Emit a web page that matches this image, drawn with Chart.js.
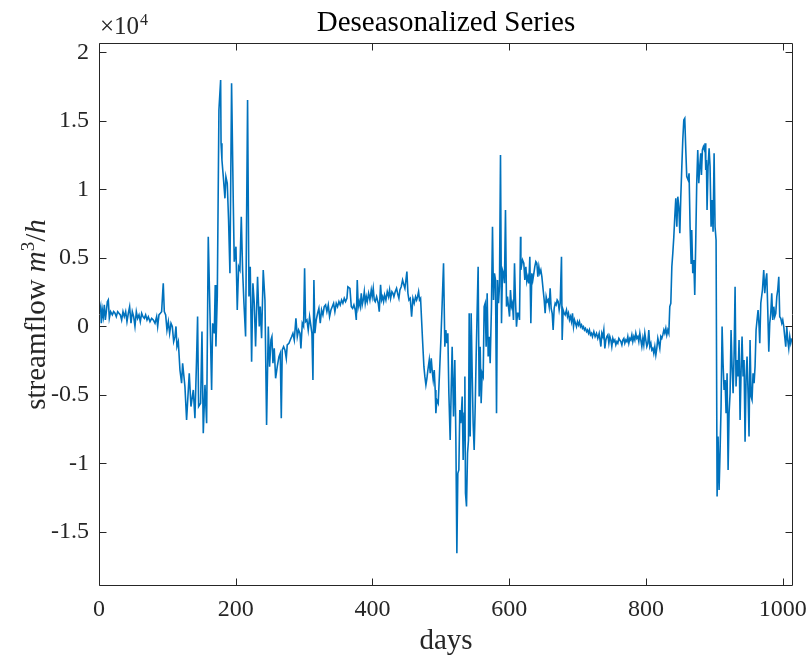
<!DOCTYPE html>
<html>
<head>
<meta charset="utf-8">
<script src="https://cdn.jsdelivr.net/npm/chart.js@4"></script>
<style>
  body { margin: 0; background: #fff; }
  canvas { display: block; }
</style>
</head>
<body>
<canvas id="Chart" width="809" height="662"></canvas>
<script>
// streamflow in units of 1e4 m^3/h
const days = [
  1, 2.4, 3.4, 4.9, 6.3, 7.8, 9.3, 10.7, 12.2, 13.6,
  15.1, 17, 19.5, 21.4, 23.4, 25.3, 27.3, 29.2, 31.2, 33.1,
  35.1, 37, 39, 40.9, 42.9, 44.8, 46.8, 48.7, 50.7, 52.6,
  54.6, 56.5, 58.5, 60.4, 62.4, 64.3, 66.3, 68.2, 70.2, 72.1,
  74.6, 77, 79.4, 81.9, 84.3, 85.8, 87.7, 89.7, 91.6, 93.1,
  94, 95.5, 97.5, 99.4, 101.4, 103.3, 105.3, 107.2, 109.2, 111.1,
  112.6, 114, 116,
  118.4, 120.8, 122.3, 125.7, 128.1, 132, 134.5, 137.9, 140.3, 142.8,
  144.2, 145.7, 148.6, 150.6, 152.5, 155, 157.4, 159.8, 162.3, 164.7,
  166.2, 168.6, 170, 171, 173, 175.4, 177.9, 178.5, 179.8, 181.8,
  184.2, 185.6, 187.6, 189.5, 191.5, 193.9, 196.4, 197.8, 200.3, 202.2,
  204.2, 206.1, 208.1, 210, 212, 214.4, 217.3, 219.3, 221.2, 223.2,
  225.1, 227.1, 229, 231.9, 234.4, 235.8, 237.8, 240.2, 242.7, 245.1,
  247.6, 249.5, 251.5, 252.9, 254.4, 256.3, 258.3, 260.7, 263.2, 265.1,
  266.6, 268, 270, 271.9, 273.9, 275.3, 277.8, 279.7, 281.7, 283.6,
  285.6, 288, 290, 291.9, 293.9, 295.3, 297.3, 299.2, 300.7, 302.1,
  304.1, 306, 308, 310, 311.4, 312.9, 314.3, 315.8, 317.7, 319.7,
  321.6, 323.6, 325.5, 327.5, 329.4, 331.4, 333.3, 335.3, 337.2, 339.2,
  341.1, 343.1, 345, 347, 348.9, 350.9, 352.8, 354.8, 356.7, 358.7,
  360.6, 362.6, 364,
  367.0, 369.0, 370.9, 372.8, 374.8, 376.3, 377.7, 379.2, 380.6, 382.1,
  383.6, 385.0, 386.5, 388.0, 389.4, 390.9, 392.3, 394.3, 396.2, 398.2,
  399.6, 401.1, 402.6, 404.0, 406.0, 408.4, 409.9, 411.8, 413.3, 414.8,
  416.2, 417.7, 419.6, 421.6, 423.5, 425.0, 426.5, 428.4, 429.9, 431.3,
  433.3, 435.2, 437.2, 438.6, 440.1, 442.0, 444.0, 445.9, 447.4, 448.9,
  450.3, 451.8, 453.3, 455.2, 457.2, 459.1, 461.0, 463.0, 464.5, 465.9,
  467.4, 468.8, 470.3, 471.8, 473.2, 475.2, 476.6, 478.1, 479.6, 481.0,
  483.0, 484.4, 485.9, 487.4, 488.8, 490.3, 491.7,
  492.7, 494.1, 496.1, 498.0, 500.0, 501.9, 503.9, 505.8, 507.3, 508.7,
  510.2, 511.7, 513.6, 515.1, 516.5, 518.5, 520.4, 521.9, 523.4, 524.8,
  526.3, 527.7, 529.2, 531.2, 532.6, 534.1, 535.1, 536.0, 537.5, 539.0,
  540.4, 541.4, 542.9, 544.3, 545.8, 547.2, 548.7, 550.2, 551.6, 553.1,
  554.5, 556.0, 557.5, 558.9, 560.4, 561.9, 563.3, 564.8, 566.2, 567.7,
  569.2, 570.6, 572.1, 574.0, 575.5, 577.0, 578.4, 579.9, 581.4, 582.8,
  584.3, 585.7, 587.2, 588.7, 590.1, 591.6, 593.0, 594.5, 596.0, 597.4,
  598.9, 600.4, 601.8, 603.3, 604.7, 606.2, 607.7, 609.1, 610.6, 612.1,
  613.5, 615.0,
  616.5,
  617.0, 619.4, 621.3, 622.8, 624.3, 625.7, 627.2, 628.7, 630.1, 631.6,
  633.0, 634.5, 636.0, 637.4, 638.9, 640.4, 641.8, 643.3, 644.7, 646.2,
  647.7, 649.6, 651.1, 652.5, 654.0, 655.5, 656.9, 658.4, 659.8, 661.3,
  662.8, 664.2, 665.7, 667.2, 668.6, 670.1, 671.5, 673.0, 674.5, 676.4,
  677.4, 678.8, 680.3, 681.8, 683.7, 685.2, 686.6, 688.1, 689.6, 691.0,
  692.5, 694.0, 695.4, 696.9, 698.3, 699.8, 701.3, 702.7, 704.2, 705.7,
  707.1, 708.6, 710.0, 711.5, 713.0, 714.4, 715.9, 717.3, 718.8, 720.3,
  721.7, 723.7, 725.6, 727.6, 729.5, 731.5,
  734.0, 735.4, 736.9, 738.3, 739.8, 741.3, 742.7, 744.2, 745.7, 747.1,
  748.6, 750.0, 751.5, 753.0, 754.4, 755.9, 757.4, 758.8, 760.3, 761.7,
  763.2, 764.7, 766.1, 767.6, 769.0, 770.5, 772.0, 773.4, 774.9, 776.4,
  777.8, 779.3, 780.7, 782.2, 783.7, 785.1, 786.6, 788.1, 789.5, 791.0,
  792.4, 793.9, 795.4, 796.8, 798.3, 799.7, 801.2, 802.7, 804.1, 805.6,
  807.1, 808.5, 810.0, 811.4, 812.9, 814.4, 815.8, 817.3, 818.8, 820.2,
  821.7, 823.1, 824.6, 826.1, 827.5, 829.0, 830.4, 831.9, 833.4, 834.8,
  836.3, 837.8, 839.2, 840.7, 842.1, 843.6, 845.1, 846.5, 848.0, 849.5,
  850.9, 852.4, 853.8, 855.3,
  856.7, 858.2, 859.6, 861.6, 863.0, 864.5, 866.0, 866.9, 868.4, 869.9,
  871.3, 872.8, 874.2, 875.7, 877.2, 878.6, 880.1, 881.1, 882.5, 884.0,
  885.5, 886.4, 887.4, 888.4, 889.3, 890.8, 892.3, 893.7, 895.2, 896.7,
  898.1, 899.6, 901.0, 902.5, 904.0, 905.4, 906.9, 908.4, 909.8, 911.3,
  912.7, 914.2, 915.7, 917.1, 918.6, 920.1, 921.5, 923.0, 924.4, 925.9,
  927.4, 928.8, 930.3, 931.7, 933.2, 934.7, 936.1, 937.6, 939.1, 940.5,
  942.0, 943.4, 944.9, 946.4, 947.8, 949.3, 950.7, 952.2, 953.7, 955.1,
  956.6, 958.1, 959.5, 961.0, 962.4, 963.9, 965.4,
  966.4, 967.9, 970.3, 972.2, 973.7, 975.2, 976.6, 978.1, 979.6, 981.0,
  982.5, 983.9, 985.4, 986.9, 988.3, 989.8, 991.3, 992.7, 994.2, 995.6,
  997.1, 998.6, 1000.0, 1001.5, 1002.9, 1004.4, 1005.9, 1007.3, 1008.8, 1010.3,
  1011.7, 1013.2
];

const flow = [
  0.108, 0.144, 0.023, 0.12, 0.07, 0.157, 0.047, 0.108, 0.18, 0.193,
  0.06, 0.108, 0.084, 0.108, 0.096, 0.071, 0.108, 0.096, 0.084, 0.047,
  0.108, 0.071, 0.108, 0.035, 0.096, 0.144, 0.023, 0.108, 0.071, 0.0,
  0.108, 0.059, 0.084, 0.035, 0.096, 0.071, 0.059, 0.084, 0.047, 0.071,
  0.035, 0.059, 0.047, 0.023, 0.071, 0.0, 0.084, 0.096, 0.108, 0.242,
  0.315, 0.108, 0.084, -0.026, 0.035, -0.05, 0.023, 0.0, -0.111, -0.075,
  0.0, -0.148, -0.111,
  -0.318, -0.415, -0.269, -0.44, -0.683, -0.342, -0.585, -0.464, -0.67, -0.22,
  0.072, -0.585, -0.561, -0.038, -0.78, -0.427, -0.707, 0.655, 0.096, -0.464,
  0.023, -0.05, 0.303, -0.147, 0.218, 1.58, 1.799, 1.337, 1.215, 1.093,
  0.935, 1.093, 1.045, 0.777, 0.388, 1.775, 0.899, 0.473, 0.582, 0.12,
  0.436, 0.412, 0.801, 0.412, 0.169, -0.074, 1.653, 0.218, 0.436, -0.257,
  0.315, 0.169, -0.147, 0.363, 0.0, 0.145, -0.087, 0.412, 0.193, -0.72,
  0.0, -0.294, -0.099, -0.075, -0.269, -0.16, -0.379, -0.294, -0.221, -0.196,
  -0.67, -0.172, -0.148, -0.172, -0.233, -0.135, -0.123, -0.099, -0.075, -0.05,
  -0.099, 0.059, -0.075, -0.026, -0.05, -0.16, 0.023, 0.0, 0.424, 0.035,
  0.047, -0.026, 0.071, 0.0, -0.05, -0.391, 0.339, -0.05, 0.047, 0.096,
  0.132, 0.023, 0.12, 0.084, 0.144, 0.157, 0.108, 0.157, 0.071, 0.12,
  0.144, 0.169, 0.108, 0.169, 0.144, 0.181, 0.157, 0.193, 0.169, 0.205,
  0.181, 0.205, 0.29,
  0.278, 0.144, 0.132, 0.157, 0.120, 0.047, 0.339, 0.144, 0.181, 0.144,
  0.242, 0.157, 0.193, 0.254, 0.169, 0.217, 0.181, 0.242, 0.193, 0.266,
  0.217, 0.278, 0.193, 0.181, 0.217, 0.169, 0.108, 0.303, 0.193, 0.217,
  0.181, 0.230, 0.193, 0.254, 0.217, 0.266, 0.205, 0.254, 0.242, 0.217,
  0.254, 0.278, 0.230, 0.205, 0.266, 0.290, 0.339, 0.303, 0.278, 0.339,
  0.400, 0.242, 0.193, 0.205, 0.071, 0.205, 0.169, 0.217, 0.193, 0.217,
  0.254, 0.193, 0.205, 0.047, -0.099, -0.294, -0.367, -0.427, -0.379, -0.318,
  -0.245, -0.342, -0.233, -0.330, -0.391, -0.318, -0.464,
  -0.634, -0.537, -0.561, -0.342, -0.099, 0.169, 0.461, -0.148, -0.026, -0.123,
  -0.050, -0.488, -0.829, -0.464, -0.148, -0.658, -0.245, -0.804, -1.656, -1.072,
  -1.048, -0.610, -0.707, -0.512, -0.975, -0.634, -0.366, -1.218, -1.315, -0.926,
  -0.829, 0.096, -0.804, 0.096, -0.342, -0.707, -0.902, -0.585, -0.220, 0.120,
  0.436, -0.512, -0.148, -0.561, -0.342, -0.366, 0.145, 0.169, -0.148, 0.242,
  -0.220, -0.075, -0.269, 0.145, 0.728, 0.193, 0.388, 0.339, -0.634, 0.339,
  0.169, 0.290, 1.252, 0.023, 0.412, 0.388, 0.315, 0.850, 0.145, 0.218,
  0.145, 0.072, 0.266, 0.145, 0.169, 0.047, 0.461, 0.193, -0.002, 0.096,
  0.096, 0.047,
  0.655,
  0.412, 0.485, 0.461, 0.339, 0.436, 0.327, 0.363, 0.315, 0.509, 0.023,
  0.388, 0.339, 0.388, 0.436, 0.473, 0.461, 0.363, 0.436, 0.388, 0.412,
  0.363, 0.266, 0.193, 0.096, 0.217, 0.181, 0.193, 0.144, 0.278, 0.132,
  0.096, -0.026, 0.132, 0.169, 0.157, 0.193, 0.181, 0.120, 0.169, 0.509,
  -0.099, 0.120, 0.096, 0.084, 0.120, 0.072, 0.096, 0.047, 0.072, 0.035,
  0.096, -0.002, 0.047, 0.023, -0.002, 0.035, 0.011, 0.035, -0.002, 0.011,
  -0.014, -0.002, -0.026, -0.014, -0.038, -0.026, -0.050, -0.026, -0.062, -0.050,
  -0.075, -0.038, -0.075, -0.050, -0.087, -0.050,
  -0.147, -0.050, -0.074, -0.026, -0.160, -0.099, -0.074, -0.062, -0.123, -0.074,
  -0.099, -0.147, -0.087, -0.111, -0.099, -0.135, -0.111, -0.123, -0.087, -0.099,
  -0.111, -0.135, -0.099, -0.087, -0.123, -0.099, -0.111, -0.074, -0.123, -0.087,
  -0.099, -0.062, -0.111, -0.074, -0.099, -0.050, -0.087, -0.074, -0.111, -0.050,
  -0.099, -0.147, -0.087, -0.135, -0.050, -0.099, -0.147, -0.123, -0.026, -0.147,
  -0.123, -0.172, -0.160, -0.196, -0.147, -0.208, -0.160, -0.087, -0.123, -0.160,
  -0.074, -0.087, -0.062, -0.026, -0.050, -0.014, -0.062, -0.026, -0.050, 0.145,
  0.169, 0.436, 0.534, 0.655, 0.801, 0.935, 0.728, 0.947, 0.874, 0.680,
  0.947, 1.166, 1.361, 1.507,
  1.519, 1.288, 1.093, 1.069, 1.118, 0.728, 0.461, 0.704, 0.388, 0.485,
  0.230, 0.631, 1.045, 1.288, 1.045, 1.167, 1.264, 1.106, 1.288, 1.312,
  1.288, 1.337, 1.142, 1.215, 0.850, 1.167, 1.300, 1.167, 0.728, 0.923,
  0.692, 1.264, 0.728, 0.631, -1.242, -0.804, -1.194, -0.902, -0.585, 0.0,
  -0.269, -0.464, -0.391, -0.634, -0.342, -1.048, -0.634, -0.488, -0.026, -0.293,
  -0.488, -0.220, 0.290, -0.439, -0.245, -0.366, -0.099, -0.683, -0.318, -0.074,
  -0.366, -0.245, -0.841, -0.366, -0.220, -0.488, -0.804, -0.099, -0.512, -0.537,
  -0.342, -0.415, -0.293, -0.026, 0.047, 0.120, 0.0,
  -0.123, 0.169, 0.266, 0.412, 0.242, 0.339, 0.388, 0.120, -0.184, 0.023,
  0.096, 0.242, 0.047, 0.144, 0.071, 0.096, 0.217, 0.266, 0.363, 0.071,
  0.059, 0.023, 0.047, -0.002, -0.075, -0.148, -0.002, -0.099, -0.160, -0.075,
  -0.123, -0.087
];

const xTicks = [0, 200, 400, 600, 800, 1000];
const yTicks = [-1.5, -1, -0.5, 0, 0.5, 1, 1.5, 2];

const SERIF = '"Liberation Serif", "Times New Roman", serif';
const AXIS = '#262626';

// MATLAB style box: frame, inward ticks on all four sides, texts
const framePlugin = {
    id: 'frame',
    afterDraw(chart) {
        const ctx = chart.ctx;
        const a = chart.chartArea;
        const x = chart.scales.x, y = chart.scales.y;
        const L = Math.round(a.left) + 0.5, R = Math.round(a.right) - 0.5;
        const T = Math.round(a.top) + 0.5, B = Math.round(a.bottom) - 0.5;
        const tl = 7;
        ctx.save();
        ctx.strokeStyle = AXIS;
        ctx.lineWidth = 1;
        ctx.beginPath();
        ctx.rect(L, T, R - L, B - T);
        xTicks.forEach(v => {
            const px = Math.round(x.getPixelForValue(v)) + 0.5;
            ctx.moveTo(px, B); ctx.lineTo(px, B - tl);
            ctx.moveTo(px, T); ctx.lineTo(px, T + tl);
        });
        yTicks.forEach(v => {
            const py = Math.round(y.getPixelForValue(v)) + 0.5;
            ctx.moveTo(L, py); ctx.lineTo(L + tl, py);
            ctx.moveTo(R, py); ctx.lineTo(R - tl, py);
        });
        ctx.stroke();

        const cx = (a.left + a.right) / 2;
        ctx.fillStyle = '#000';
        ctx.textBaseline = 'alphabetic';

        // title
        ctx.textAlign = 'center';
        ctx.font = '29px ' + SERIF;
        ctx.fillText('Deseasonalized Series', cx, 31);

        // x label
        ctx.fillStyle = AXIS;
        ctx.fillText('days', cx, 649);

        // exponent
        ctx.textAlign = 'left';
        ctx.font = '25px ' + SERIF;
        ctx.fillText('\u00d710', 100, 34);
        const w10 = ctx.measureText('\u00d710').width;
        ctx.font = '16px ' + SERIF;
        ctx.fillText('4', 100 + w10 + 1, 25);

        // y label, streamflow m^3/h
        const parts = [
            ['streamflow ', '29px ' + SERIF, 0],
            ['m', 'italic 29px ' + SERIF, 0],
            ['3', '19px ' + SERIF, 11],
            ['/', '29px ' + SERIF, 0],
            ['h', 'italic 29px ' + SERIF, 0]
        ];
        let total = 0;
        parts.forEach(p => { ctx.font = p[1]; total += ctx.measureText(p[0]).width; });
        ctx.translate(45, (a.top + a.bottom) / 2);
        ctx.rotate(-Math.PI / 2);
        let pos = -total / 2;
        parts.forEach(p => {
            ctx.font = p[1];
            ctx.fillText(p[0], pos, -p[2]);
            pos += ctx.measureText(p[0]).width;
        });
        ctx.restore();
    }
};

var ctx = document.getElementById('Chart').getContext('2d');
var chart = new Chart(ctx, {
    type: 'line',
    data: {
        datasets: [{
            data: days.map((d, i) => ({ x: d, y: flow[i] })),
            borderColor: '#0072BD',
            borderWidth: 1.6,
            pointRadius: 0,
            tension: 0,
            fill: false
        }]
    },
    options: {
        responsive: false,
        animation: false,
        layout: { padding: { top: 43, right: 16, left: 0, bottom: 0 } },
        plugins: { legend: { display: false }, tooltip: { enabled: false } },
        scales: {
            x: {
                type: 'linear',
                min: 0,
                max: 1015,
                grid: { display: false, drawTicks: false },
                border: { display: false },
                afterBuildTicks: s => { s.ticks = xTicks.map(v => ({ value: v })); },
                afterFit: s => { s.height = 76; s.paddingLeft = 0; s.paddingRight = 0; },
                ticks: {
                    padding: 9,
                    color: AXIS,
                    maxRotation: 0,
                    autoSkip: false,
                    font: { family: SERIF, size: 24 },
                    callback: v => String(v)
                }
            },
            y: {
                type: 'linear',
                min: -1.895,
                max: 2.069,
                grid: { display: false, drawTicks: false },
                border: { display: false },
                afterBuildTicks: s => { s.ticks = yTicks.map(v => ({ value: v })); },
                afterFit: s => { s.width = 99; s.paddingTop = 0; s.paddingBottom = 0; },
                ticks: {
                    padding: 10,
                    color: AXIS,
                    autoSkip: false,
                    font: { family: SERIF, size: 24 },
                    callback: v => String(v)
                }
            }
        }
    },
    plugins: [framePlugin]
});
</script>
</body>
</html>
